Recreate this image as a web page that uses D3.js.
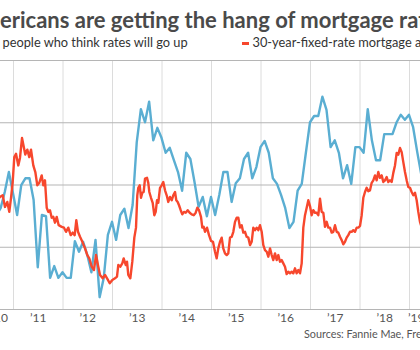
<!DOCTYPE html>
<html><head><meta charset="utf-8">
<script src="https://cdn.jsdelivr.net/npm/d3@7"></script>
<style>
html,body{margin:0;padding:0;background:#fff;overflow:hidden}
svg{display:block;font-family:Lato,"Open Sans",sans-serif}
</style></head><body>
<svg id="chart" width="420" height="350"></svg>
<script>
// ---------- data ----------
const titleText = "Americans are getting the hang of mortgage rates";
const legendLabels = ["people who think rates will go up", "30-year-fixed-rate mortgage average"];
const sourceText = "Sources: Fannie Mae, Freddie Mac";
const gridYears = [2010, 2011, 2012, 2013, 2014, 2015, 2016, 2017, 2018, 2019, 2020];
const tickYears = [2010, 2011, 2012, 2013, 2014, 2015, 2016, 2017, 2018, 2019];
const tickLabels = ["\u201910", "\u201911", "\u201912", "\u201913", "\u201914", "\u201915", "\u201916", "\u201917", "\u201918", "\u201919"];
const shareGrid = [30, 40, 50, 60, 70];

// share of people who think mortgage rates will go up (%), monthly from Sep 2010
const shareStartYear = 2010, shareStartMonth = 8; // September (0-based)
const shareValues = [
  45.1, 46.2, 48.8, 52.0,
  48.6, 45.1, 49.9, 51.0, 51.0, 47.5, 36.7, 45.1, 44.9, 35.0, 36.9, 35.0,
  35.9, 35.0, 35.0, 40.9, 39.2, 40.8, 38.7, 35.9, 41.1, 31.9, 35.0, 41.9,
  44.0, 41.1, 45.1, 46.1, 43.0, 46.7, 56.8, 62.1, 60.0, 63.3, 57.1, 59.1,
  57.5, 55.1, 55.9, 53.9, 52.0, 49.0, 55.1, 54.1, 50.4, 46.4, 48.0, 44.9,
  48.0, 45.1, 48.3, 52.0, 52.0, 47.2, 50.2, 51.0, 54.1, 55.1, 51.0, 52.8,
  56.0, 57.0, 55.1, 51.0, 50.1, 48.3, 46.2, 43.0, 44.0, 49.0, 50.1, 55.1,
  60.0, 61.0, 61.0, 64.1, 62.0, 56.0, 57.1, 55.1, 51.0, 53.1, 50.1, 56.0,
  56.0, 55.1, 62.1, 57.1, 53.9, 53.9, 58.1, 58.1, 58.1, 60.0, 61.2, 60.4,
  61.2, 59.2, 55.2, 51.5, 48.3, 49.9
];

// 30-year fixed mortgage rate (%), [decimal year, rate]
const rateSeries = [
  [2010.677,4.31],[2010.737,4.35],[2010.792,4.37],[2010.838,4.23],[2010.885,4.29],[2010.925,4.17],
  [2010.960,4.34],[2010.994,4.53],[2011.026,4.83],[2011.061,4.87],[2011.107,4.73],[2011.141,4.82],
  [2011.182,5.06],[2011.222,4.94],[2011.248,4.86],[2011.289,4.92],[2011.329,4.83],[2011.364,4.92],
  [2011.410,4.73],[2011.451,4.65],[2011.491,4.49],[2011.531,4.52],[2011.580,4.61],[2011.612,4.49],
  [2011.646,4.55],[2011.681,4.22],[2011.713,4.17],[2011.747,4.19],[2011.782,4.10],[2011.814,4.11],
  [2011.848,4.04],[2011.883,4.11],[2011.923,4.01],[2011.984,3.99],[2012.030,3.98],[2012.071,3.93],
  [2012.117,3.98],[2012.166,3.89],[2012.206,3.92],[2012.246,3.89],[2012.279,4.07],[2012.313,3.93],
  [2012.354,3.87],[2012.408,3.80],[2012.455,3.73],[2012.501,3.65],[2012.541,3.61],[2012.590,3.51],
  [2012.636,3.47],[2012.677,3.65],[2012.723,3.51],[2012.758,3.41],[2012.812,3.37],[2012.859,3.41],
  [2012.909,3.36],[2012.954,3.31],[2013.006,3.35],[2013.061,3.37],[2013.101,3.39],[2013.127,3.53],
  [2013.168,3.51],[2013.208,3.55],[2013.236,3.61],[2013.277,3.53],[2013.303,3.57],[2013.329,3.41],
  [2013.370,3.37],[2013.410,3.57],[2013.451,3.86],[2013.485,3.98],[2013.511,4.37],[2013.531,4.46],
  [2013.560,4.49],[2013.586,4.34],[2013.612,4.40],[2013.640,4.41],[2013.667,4.57],[2013.707,4.58],
  [2013.733,4.52],[2013.754,4.41],[2013.788,4.34],[2013.822,4.28],[2013.855,4.13],[2013.883,4.17],
  [2013.909,4.31],[2013.935,4.28],[2013.970,4.46],[2014.004,4.49],[2014.036,4.53],[2014.071,4.43],
  [2014.105,4.37],[2014.137,4.29],[2014.172,4.35],[2014.206,4.31],[2014.238,4.37],[2014.273,4.41],
  [2014.299,4.31],[2014.327,4.29],[2014.354,4.25],[2014.388,4.19],[2014.420,4.14],[2014.455,4.17],
  [2014.489,4.16],[2014.529,4.19],[2014.570,4.16],[2014.610,4.14],[2014.651,4.13],[2014.691,4.16],
  [2014.723,4.22],[2014.758,4.19],[2014.798,4.11],[2014.824,3.98],[2014.853,3.99],[2014.879,3.93],
  [2014.919,3.98],[2014.960,3.89],[2015.000,3.82],[2015.040,3.81],[2015.081,3.69],[2015.115,3.61],
  [2015.147,3.73],[2015.182,3.81],[2015.216,3.86],[2015.248,3.73],[2015.283,3.67],[2015.317,3.65],
  [2015.349,3.67],[2015.384,3.86],[2015.418,3.87],[2015.451,3.93],[2015.485,4.05],[2015.519,4.10],
  [2015.552,4.10],[2015.586,3.98],[2015.620,4.01],[2015.653,3.92],[2015.687,3.93],[2015.721,3.87],
  [2015.754,3.86],[2015.788,3.77],[2015.822,3.81],[2015.855,3.98],[2015.889,3.95],[2015.923,3.98],
  [2015.956,3.95],[2015.990,4.01],[2016.024,3.93],[2016.057,3.77],[2016.091,3.71],[2016.125,3.69],
  [2016.158,3.63],[2016.192,3.73],[2016.226,3.65],[2016.259,3.59],[2016.293,3.67],[2016.327,3.59],
  [2016.360,3.65],[2016.394,3.57],[2016.428,3.59],[2016.461,3.55],[2016.495,3.51],[2016.529,3.42],
  [2016.562,3.45],[2016.596,3.43],[2016.630,3.45],[2016.663,3.43],[2016.697,3.49],[2016.731,3.43],
  [2016.764,3.47],[2016.798,3.43],[2016.832,3.55],[2016.865,3.98],[2016.899,4.13],[2016.933,4.22],
  [2016.966,4.31],[2017.000,4.24],[2017.034,4.13],[2017.067,4.19],[2017.101,4.16],[2017.135,4.16],
  [2017.168,4.13],[2017.202,4.33],[2017.236,4.17],[2017.269,4.16],[2017.303,3.99],[2017.337,4.05],
  [2017.370,3.98],[2017.404,3.98],[2017.438,3.92],[2017.471,3.93],[2017.505,4.01],[2017.539,3.93],
  [2017.572,3.92],[2017.606,3.87],[2017.640,3.83],[2017.673,3.78],[2017.707,3.81],[2017.741,3.86],
  [2017.774,3.89],[2017.808,3.93],[2017.842,3.93],[2017.875,3.95],[2017.909,3.93],[2017.943,3.98],
  [2017.976,3.98],[2018.010,4.00],[2018.044,4.13],[2018.077,4.34],[2018.111,4.41],[2018.145,4.46],
  [2018.178,4.42],[2018.212,4.43],[2018.246,4.52],[2018.279,4.55],[2018.313,4.61],[2018.347,4.55],
  [2018.380,4.65],[2018.414,4.58],[2018.448,4.61],[2018.481,4.53],[2018.515,4.55],[2018.549,4.59],
  [2018.582,4.53],[2018.616,4.55],[2018.650,4.53],[2018.683,4.64],[2018.717,4.73],[2018.751,4.88],
  [2018.784,4.86],[2018.818,4.94],[2018.852,4.89],[2018.885,4.77],[2018.919,4.65],[2018.953,4.55],
  [2018.986,4.47],[2019.020,4.46],[2019.054,4.41],[2019.087,4.37],[2019.121,4.40],[2019.155,4.31],
  [2019.188,4.17],[2019.222,4.05],[2019.283,3.93]
];

const colors = { share: "#5aaed2", rate: "#f7472d", grid: "#dcdcdc", hgrid: "#b5b5b5", title: "#4a4a4a", text: "#333", tick: "#555" };

// ---------- drawing ----------
const W = 420, H = 350;
const plotTop = 60, plotBottom = 309;
const labelLeft = -9, labelRight = 424;   // edges of the original (uncropped) plot area
const svg = d3.select("#chart");

const x = d3.scaleLinear().domain([2011, 2019]).range([13, 409]);
const yShare = d3.scaleLinear().domain([30, 70]).range([plotBottom, plotTop]);
const yRate = d3.scaleLinear().domain([3, 6]).range([plotBottom, plotTop]);

// vertical grid lines (year starts)
const vg = svg.append("g").attr("transform", `translate(0,${plotBottom})`)
  .call(d3.axisBottom(x).tickValues(gridYears).tickSize(-(plotBottom - plotTop)).tickFormat(""));
vg.select(".domain").remove();
vg.selectAll("line").attr("stroke", colors.grid).attr("stroke-width", 1);

// horizontal grid lines
const hg = svg.append("g")
  .call(d3.axisRight(yShare).tickValues(shareGrid).tickSize(W).tickFormat(""));
hg.select(".domain").remove();
hg.selectAll("line").attr("stroke", colors.hgrid).attr("stroke-width", 1);

// year labels centred in each year, kept inside the original plot edges
const xl = svg.append("g").attr("transform", `translate(0,${plotBottom})`)
  .call(d3.axisBottom(x).tickValues(tickYears.map(d => d + 0.5)).tickSize(0).tickPadding(4.5)
    .tickFormat((d, i) => tickLabels[i]));
xl.select(".domain").remove();
xl.selectAll("text").attr("font-family", "Lato, sans-serif").attr("font-size", 12).attr("fill", colors.tick)
  .each(function (d) {
    const w = this.getComputedTextLength();
    const cx = x(d);
    const target = Math.max(labelLeft + w / 2, Math.min(labelRight - w / 2, cx));
    d3.select(this).attr("x", target - cx);
  });

// lines
const shareData = shareValues.map((v, i) => [shareStartYear + (shareStartMonth + i) / 12, v]);
const shareLine = d3.line().x(d => x(d[0])).y(d => yShare(d[1]));
const rateLine = d3.line().x(d => x(d[0])).y(d => yRate(d[1]));

svg.append("path").datum(shareData).attr("d", shareLine)
  .attr("fill", "none").attr("stroke", colors.share).attr("stroke-width", 2.4).attr("stroke-linejoin", "round");
svg.append("path").datum(rateSeries).attr("d", rateLine)
  .attr("fill", "none").attr("stroke", colors.rate).attr("stroke-width", 2.4).attr("stroke-linejoin", "round");

// title (left part falls outside the crop)
const title = svg.append("text").attr("y", 27.5).attr("font-size", 22).attr("font-weight", 700)
  .attr("fill", colors.title).text(titleText);
const cut = title.node().getSubStringLength(0, 2);
title.attr("x", -cut);

// legend
svg.append("text").attr("x", 2.5).attr("y", 47).attr("font-size", 12.8).attr("fill", colors.text).text(legendLabels[0]);
svg.append("line").attr("x1", 242).attr("x2", 249).attr("y1", 43.5).attr("y2", 43.5)
  .attr("stroke", colors.rate).attr("stroke-width", 3);
svg.append("text").attr("x", 252.5).attr("y", 47).attr("font-size", 12.8).attr("fill", colors.text).text(legendLabels[1]);

// source
svg.append("text").attr("x", 304).attr("y", 337.5).attr("font-size", 10.8).attr("fill", colors.tick).text(sourceText);
</script>
</body></html>
